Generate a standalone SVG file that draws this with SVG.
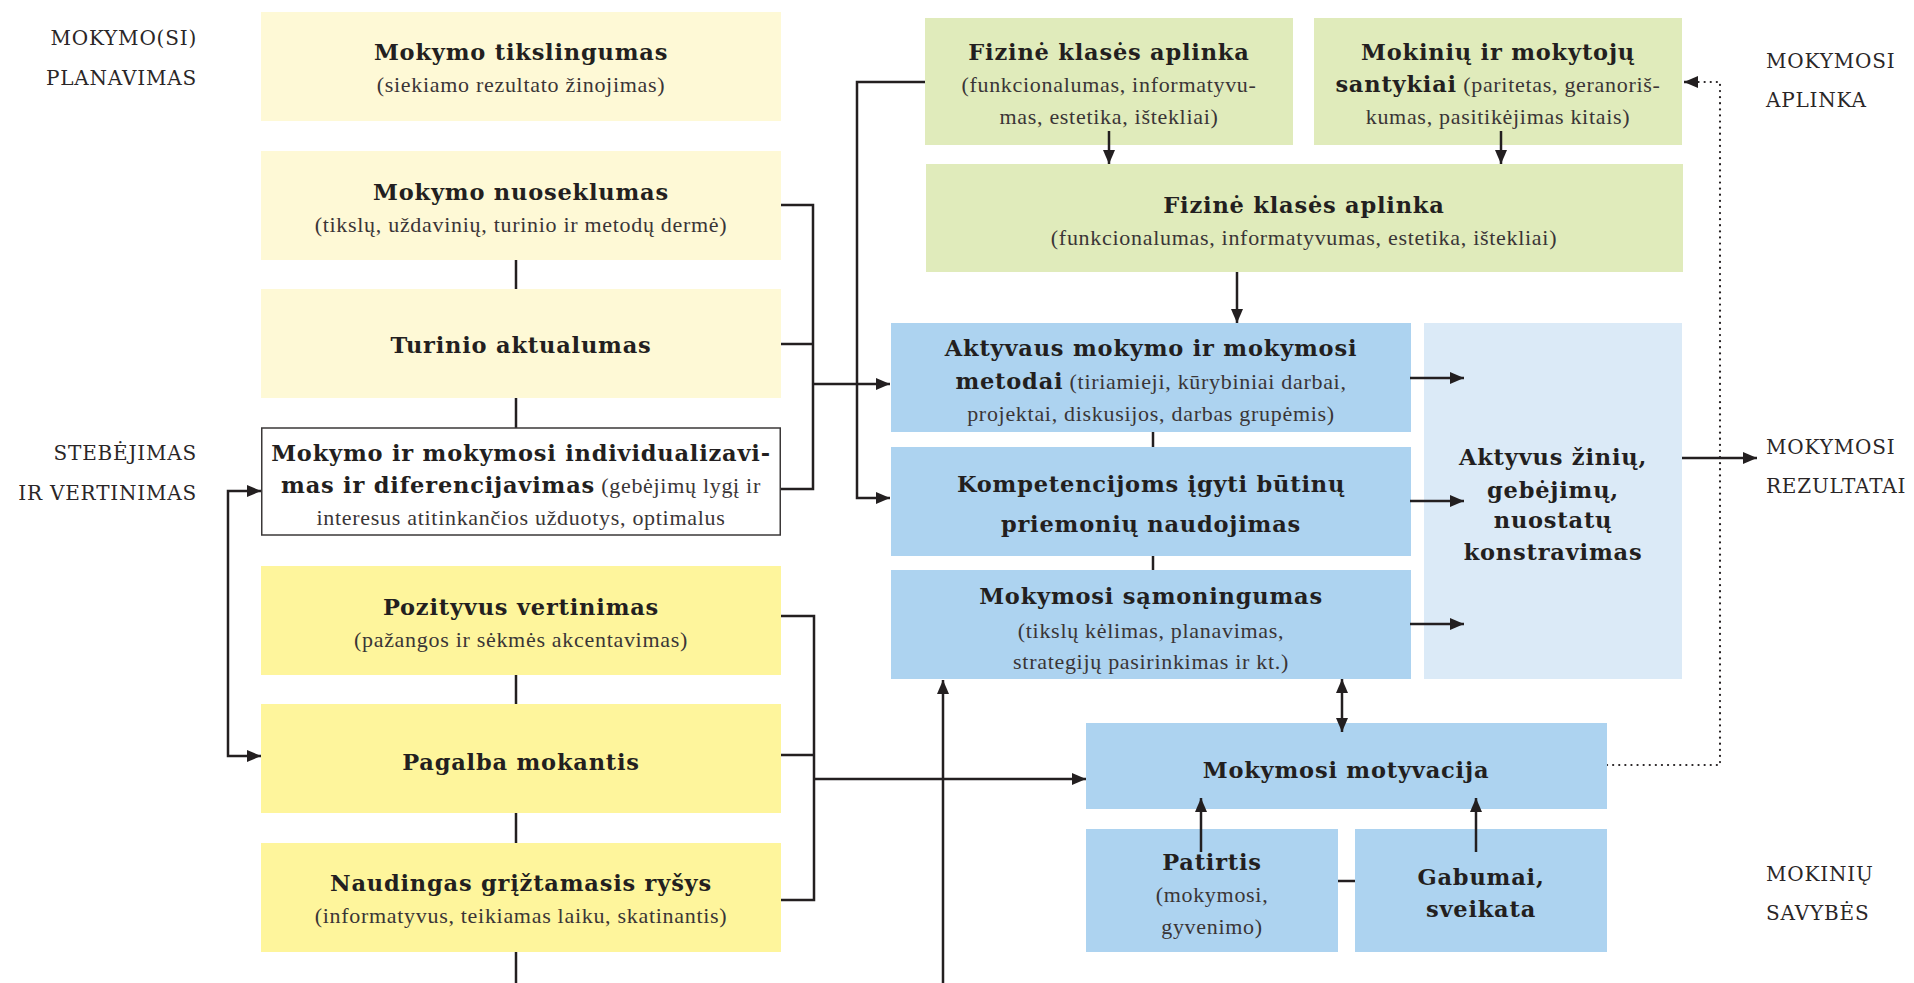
<svg xmlns="http://www.w3.org/2000/svg" width="1914" height="983" viewBox="0 0 1914 983">
<defs>
<style>
.t{font-family:"DejaVu Serif",serif;font-weight:bold;font-size:22.5px;fill:#231F20;text-anchor:middle;letter-spacing:0.8px}
.s{font-family:"Liberation Serif",serif;font-size:22px;fill:#3a3536;text-anchor:middle;letter-spacing:0.7px}
.r{font-weight:normal;font-family:"Liberation Serif",serif;font-size:22px;fill:#3a3536;letter-spacing:0.7px}
.lbl{font-family:"DejaVu Serif",serif;font-size:20px;fill:#2a2627;letter-spacing:0.8px}
.y1{fill:#FEF9D6}
.y2{fill:#FEF59C}
.g{fill:#E0EBBB}
.b{fill:#ADD3F0}
.lb{fill:#DBEAF7}
.c{stroke:#231F20;stroke-width:2.5;fill:none}
.d{stroke:#231F20;stroke-width:2.2;fill:none;stroke-dasharray:0.1 6;stroke-linecap:round}
</style>
<marker id="ah" viewBox="0 0 14 12" refX="14" refY="6" markerWidth="14" markerHeight="12" markerUnits="userSpaceOnUse" orient="auto-start-reverse">
<path d="M0,0 L14,6 L0,12 z" fill="#231F20"/>
</marker>
</defs>
<rect width="1914" height="983" fill="#ffffff"/>

<g id="labels">
<text class="lbl" x="197" y="45" text-anchor="end">MOKYMO(SI)</text>
<text class="lbl" x="197" y="85" text-anchor="end">PLANAVIMAS</text>
<text class="lbl" x="197" y="460" text-anchor="end">STEBĖJIMAS</text>
<text class="lbl" x="197" y="500" text-anchor="end">IR VERTINIMAS</text>
<text class="lbl" x="1766" y="68">MOKYMOSI</text>
<text class="lbl" x="1766" y="107">APLINKA</text>
<text class="lbl" x="1766" y="454">MOKYMOSI</text>
<text class="lbl" x="1766" y="493">REZULTATAI</text>
<text class="lbl" x="1766" y="881">MOKINIŲ</text>
<text class="lbl" x="1766" y="920">SAVYBĖS</text>
</g>

<g id="connectors">
<line class="c" x1="516" y1="259" x2="516" y2="289"/>
<line class="c" x1="516" y1="397" x2="516" y2="428"/>
<line class="c" x1="516" y1="675" x2="516" y2="704"/>
<line class="c" x1="516" y1="813" x2="516" y2="843"/>
<line class="c" x1="516" y1="952" x2="516" y2="983"/>
<polyline class="c" points="781,205 813,205 813,489 781,489"/>
<line class="c" x1="781" y1="344" x2="813" y2="344"/>
<line class="c" x1="813" y1="384" x2="890" y2="384" marker-end="url(#ah)"/>
<polyline class="c" points="925,82 857,82 857,498 890,498" marker-end="url(#ah)"/>
<polyline class="c" points="781,616 814,616 814,900 781,900"/>
<line class="c" x1="781" y1="755" x2="814" y2="755"/>
<line class="c" x1="814" y1="779" x2="1086" y2="779" marker-end="url(#ah)"/>
<line class="c" x1="943" y1="983" x2="943" y2="680" marker-end="url(#ah)"/>
<polyline class="c" points="261,491 228,491 228,756 261,756" marker-start="url(#ah)" marker-end="url(#ah)"/>
<line class="c" x1="1237" y1="271" x2="1237" y2="323" marker-end="url(#ah)"/>
<line class="c" x1="1153" y1="432" x2="1153" y2="447"/>
<line class="c" x1="1153" y1="556" x2="1153" y2="570"/>
<line class="c" x1="1682" y1="458" x2="1757" y2="458" marker-end="url(#ah)"/>
<line class="c" x1="1338" y1="881" x2="1355" y2="881"/>
<polyline class="d" points="1607,765 1720,765 1720,82 1698,82"/>
<line class="c" x1="1698" y1="82" x2="1684" y2="82" stroke-width="0" marker-end="url(#ah)"/>
</g>

<g id="n-tikslingumas">
<rect class="y1" x="261" y="12" width="520" height="109"/>
<text class="t" x="521" y="60">Mokymo tikslingumas</text>
<text class="s" x="521" y="92">(siekiamo rezultato žinojimas)</text>
</g>
<g id="n-nuoseklumas">
<rect class="y1" x="261" y="151" width="520" height="109"/>
<text class="t" x="521" y="200">Mokymo nuoseklumas</text>
<text class="s" x="521" y="232">(tikslų, uždavinių, turinio ir metodų dermė)</text>
</g>
<g id="n-turinio">
<rect class="y1" x="261" y="289" width="520" height="109"/>
<text class="t" x="521" y="353">Turinio aktualumas</text>
</g>
<g id="n-individualizavimas">
<rect x="261.75" y="428" width="518.5" height="107" fill="#ffffff" stroke="#3b3838" stroke-width="1.5"/>
<text class="t" x="521" y="461">Mokymo ir mokymosi individualizavi-</text>
<text class="t" x="521" y="493">mas ir diferencijavimas<tspan class="r"> (gebėjimų lygį ir</tspan></text>
<text class="s" x="521" y="525">interesus atitinkančios užduotys, optimalus</text>
</g>
<g id="n-pozityvus">
<rect class="y2" x="261" y="566" width="520" height="109"/>
<text class="t" x="521" y="615">Pozityvus vertinimas</text>
<text class="s" x="521" y="647">(pažangos ir sėkmės akcentavimas)</text>
</g>
<g id="n-pagalba">
<rect class="y2" x="261" y="704" width="520" height="109"/>
<text class="t" x="521" y="770">Pagalba mokantis</text>
</g>
<g id="n-grizt">
<rect class="y2" x="261" y="843" width="520" height="109"/>
<text class="t" x="521" y="891">Naudingas grįžtamasis ryšys</text>
<text class="s" x="521" y="923">(informatyvus, teikiamas laiku, skatinantis)</text>
</g>

<g id="n-fizine1">
<rect class="g" x="925" y="18" width="368" height="127"/>
<text class="t" x="1109" y="60">Fizinė klasės aplinka</text>
<text class="s" x="1109" y="92">(funkcionalumas, informatyvu-</text>
<text class="s" x="1109" y="124">mas, estetika, ištekliai)</text>
</g>
<g id="n-santykiai">
<rect class="g" x="1314" y="18" width="368" height="127"/>
<text class="t" x="1498" y="60">Mokinių ir mokytojų</text>
<text class="t" x="1498" y="92">santykiai<tspan class="r"> (paritetas, geranoriš-</tspan></text>
<text class="s" x="1498" y="124">kumas, pasitikėjimas kitais)</text>
</g>
<g id="n-fizine2">
<rect class="g" x="926" y="164" width="757" height="108"/>
<text class="t" x="1304" y="213">Fizinė klasės aplinka</text>
<text class="s" x="1304" y="245">(funkcionalumas, informatyvumas, estetika, ištekliai)</text>
</g>

<g id="n-aktyvaus">
<rect class="b" x="891" y="323" width="520" height="109"/>
<text class="t" x="1151" y="356">Aktyvaus mokymo ir mokymosi</text>
<text class="t" x="1151" y="389">metodai<tspan class="r"> (tiriamieji, kūrybiniai darbai,</tspan></text>
<text class="s" x="1151" y="421">projektai, diskusijos, darbas grupėmis)</text>
</g>
<g id="n-kompetencijoms">
<rect class="b" x="891" y="447" width="520" height="109"/>
<text class="t" x="1151" y="492">Kompetencijoms įgyti būtinų</text>
<text class="t" x="1151" y="532">priemonių naudojimas</text>
</g>
<g id="n-samoningumas">
<rect class="b" x="891" y="570" width="520" height="109"/>
<text class="t" x="1151" y="604">Mokymosi sąmoningumas</text>
<text class="s" x="1151" y="638">(tikslų kėlimas, planavimas,</text>
<text class="s" x="1151" y="669">strategijų pasirinkimas ir kt.)</text>
</g>
<g id="n-konstravimas">
<rect class="lb" x="1424" y="323" width="258" height="356"/>
<text class="t" x="1553" y="465">Aktyvus žinių,</text>
<text class="t" x="1553" y="498">gebėjimų,</text>
<text class="t" x="1553" y="528">nuostatų</text>
<text class="t" x="1553" y="560">konstravimas</text>
</g>
<g id="n-motyvacija">
<rect class="b" x="1086" y="723" width="521" height="86"/>
<text class="t" x="1346" y="778">Mokymosi motyvacija</text>
</g>
<g id="n-patirtis">
<rect class="b" x="1086" y="829" width="252" height="123"/>
<text class="t" x="1212" y="870">Patirtis</text>
<text class="s" x="1212" y="902">(mokymosi,</text>
<text class="s" x="1212" y="934">gyvenimo)</text>
</g>
<g id="n-gabumai">
<rect class="b" x="1355" y="829" width="252" height="123"/>
<text class="t" x="1481" y="885">Gabumai,</text>
<text class="t" x="1481" y="917">sveikata</text>
</g>
<g id="arrows-over">
<line class="c" x1="1109" y1="131" x2="1109" y2="164" marker-end="url(#ah)"/>
<line class="c" x1="1501" y1="131" x2="1501" y2="164" marker-end="url(#ah)"/>
<line class="c" x1="1410" y1="378" x2="1464" y2="378" marker-end="url(#ah)"/>
<line class="c" x1="1410" y1="501" x2="1464" y2="501" marker-end="url(#ah)"/>
<line class="c" x1="1410" y1="624" x2="1464" y2="624" marker-end="url(#ah)"/>
<line class="c" x1="1342" y1="679" x2="1342" y2="732" marker-start="url(#ah)" marker-end="url(#ah)"/>
<line class="c" x1="1201" y1="852" x2="1201" y2="798" marker-end="url(#ah)"/>
<line class="c" x1="1476" y1="852" x2="1476" y2="798" marker-end="url(#ah)"/>
</g>
</svg>
